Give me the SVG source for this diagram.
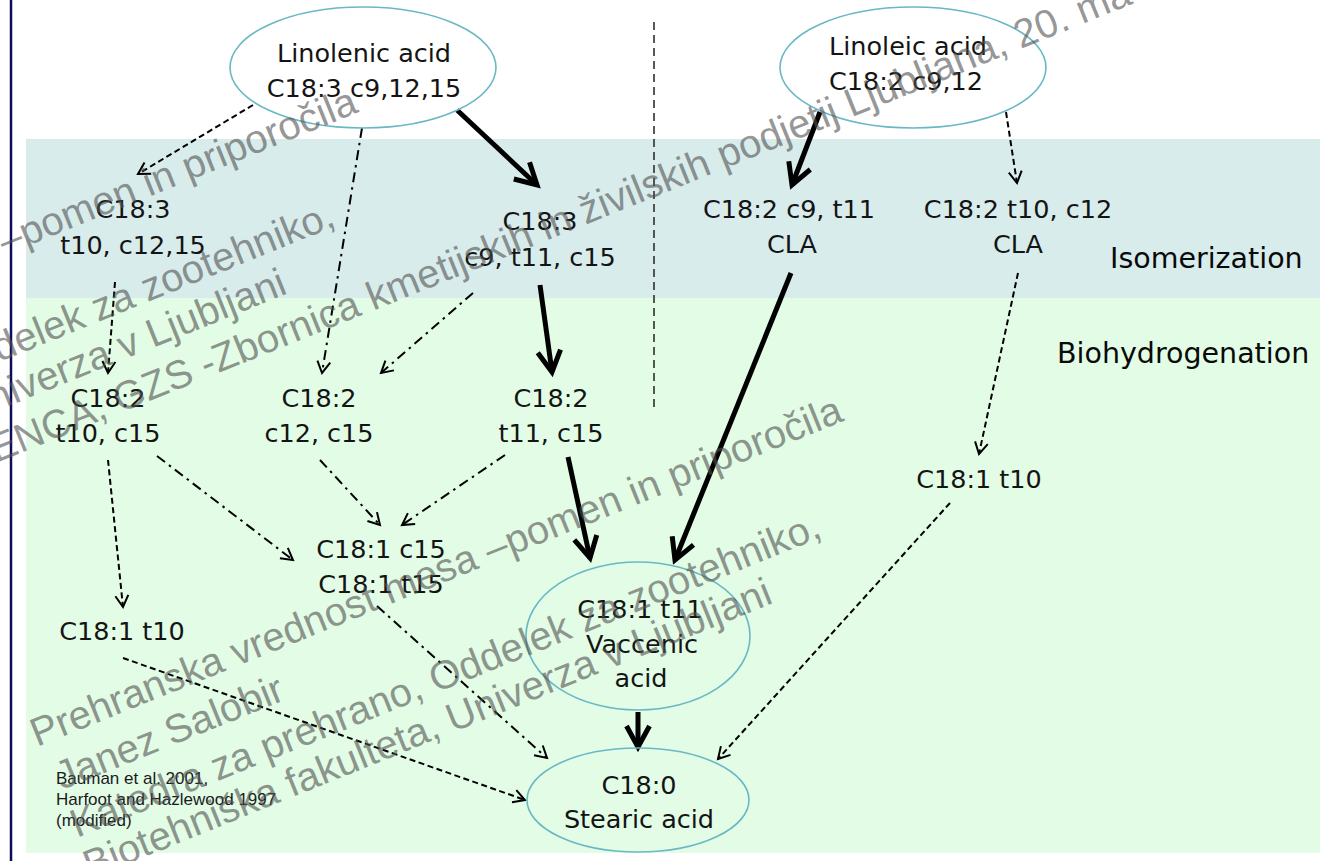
<svg xmlns="http://www.w3.org/2000/svg" width="1324" height="861" viewBox="0 0 1324 861">
<defs>
<style>
.node{font-family:"DejaVu Sans",sans-serif;font-size:25.5px;fill:#141414;text-anchor:middle}
.band{font-family:"DejaVu Sans",sans-serif;font-size:28.5px;fill:#0a0a0a}
.cite{font-family:"Liberation Sans",Arial,sans-serif;font-size:17px;fill:#1a1a1a}
.ell{fill:none;stroke:#6ab8c4;stroke-width:1.6}
.thick{fill:none;stroke:#000;stroke-width:5;marker-end:url(#hThick)}
.dash{fill:none;stroke:#000;stroke-width:2;stroke-dasharray:6 3.5;marker-end:url(#hThin)}
.dd{fill:none;stroke:#000;stroke-width:2;stroke-dasharray:10 5 2.5 5;marker-end:url(#hThin)}
.wm{font-family:"Liberation Sans",Arial,sans-serif;font-size:40px;fill:#505050;fill-opacity:0.6}
</style>
<marker id="hThick" markerUnits="userSpaceOnUse" viewBox="-30 -20 40 40" markerWidth="40" markerHeight="40" refX="0" refY="0" orient="auto" overflow="visible">
<path d="M-21,-11.5 L0,0 L-21,11.5" fill="none" stroke="#000" stroke-width="5" stroke-dasharray="none" stroke-linejoin="miter"/>
</marker>
<marker id="hThin" markerUnits="userSpaceOnUse" viewBox="-20 -10 25 20" markerWidth="25" markerHeight="20" refX="0" refY="0" orient="auto" overflow="visible">
<path d="M-11.5,-6.5 L0,0 L-11.5,6.5" fill="none" stroke="#000" stroke-width="2" stroke-dasharray="none"/>
</marker>
</defs>

<g id="background">
<rect x="0" y="0" width="1324" height="861" fill="#ffffff"/>
<rect x="26" y="139" width="1294" height="159" fill="#d8ecec"/>
<rect x="26" y="298" width="1294" height="555" fill="#e2fce6"/>
<line x1="11" y1="0" x2="11" y2="861" stroke="#0c0c5a" stroke-width="2.5"/>
<line x1="654" y1="22" x2="654" y2="408" stroke="#222" stroke-width="1.5" stroke-dasharray="8 5"/>
<text class="band" x="1110" y="268">Isomerization</text>
<text class="band" x="1057" y="363">Biohydrogenation</text>
</g>

<g id="connectors">
<line class="thick" x1="457" y1="110" x2="537" y2="185"/>
<line class="thick" x1="820" y1="112" x2="792" y2="185"/>
<line class="thick" x1="540" y1="285" x2="552" y2="372"/>
<line class="thick" x1="568" y1="457" x2="590" y2="558"/>
<line class="thick" x1="791" y1="273" x2="675" y2="560"/>
<line class="thick" x1="638" y1="712" x2="638" y2="747"/>
<line class="dash" x1="253" y1="105" x2="138" y2="174"/>
<line class="dash" x1="1006" y1="112" x2="1017" y2="183"/>
<line class="dash" x1="115" y1="282" x2="108" y2="373"/>
<line class="dash" x1="108" y1="460" x2="123" y2="607"/>
<line class="dash" x1="123" y1="658" x2="525" y2="800"/>
<line class="dash" x1="1018" y1="273" x2="979" y2="454"/>
<line class="dash" x1="950" y1="503" x2="718" y2="759"/>
<line class="dd" x1="362" y1="128" x2="322" y2="373"/>
<line class="dd" x1="473" y1="293" x2="381" y2="373"/>
<line class="dd" x1="320" y1="460" x2="380" y2="525"/>
<line class="dd" x1="505" y1="455" x2="402" y2="525"/>
<line class="dd" x1="157" y1="456" x2="293" y2="560"/>
<line class="dd" x1="377" y1="606" x2="547" y2="758"/>
</g>

<g id="n-linolenic">
<ellipse class="ell" cx="363" cy="67.5" rx="133" ry="60.5"/>
<text class="node" x="364" y="62">Linolenic acid</text>
<text class="node" x="364" y="97">C18:3 c9,12,15</text>
</g>
<g id="n-linoleic">
<ellipse class="ell" cx="913" cy="67.5" rx="133" ry="60.5"/>
<text class="node" x="908" y="55">Linoleic acid</text>
<text class="node" x="906" y="90">C18:2 c9,12</text>
</g>
<g id="n-c183-t10">
<text class="node" x="133" y="218">C18:3</text>
<text class="node" x="133" y="254">t10, c12,15</text>
</g>
<g id="n-c183-c9">
<text class="node" x="540" y="230">C18:3</text>
<text class="node" x="540" y="266">c9, t11, c15</text>
</g>
<g id="n-cla-c9">
<text class="node" x="789" y="218">C18:2 c9, t11</text>
<text class="node" x="792" y="253">CLA</text>
</g>
<g id="n-cla-t10">
<text class="node" x="1018" y="218">C18:2 t10, c12</text>
<text class="node" x="1018" y="253">CLA</text>
</g>
<g id="n-c182-t10c15">
<text class="node" x="108" y="407">C18:2</text>
<text class="node" x="108" y="442">t10, c15</text>
</g>
<g id="n-c182-c12c15">
<text class="node" x="319" y="407">C18:2</text>
<text class="node" x="319" y="442">c12, c15</text>
</g>
<g id="n-c182-t11c15">
<text class="node" x="551" y="407">C18:2</text>
<text class="node" x="551" y="442">t11, c15</text>
</g>
<g id="n-c181-t10-right">
<text class="node" x="979" y="488">C18:1 t10</text>
</g>
<g id="n-c181-c15">
<text class="node" x="381" y="558">C18:1 c15</text>
<text class="node" x="381" y="593">C18:1 t15</text>
</g>
<g id="n-c181-t10-left">
<text class="node" x="122" y="640">C18:1 t10</text>
</g>
<g id="n-vaccenic">
<ellipse class="ell" cx="638" cy="636" rx="112" ry="74"/>
<text class="node" x="640" y="618">C18:1 t11</text>
<text class="node" x="642" y="653">Vaccenic</text>
<text class="node" x="641" y="687">acid</text>
</g>
<g id="n-stearic">
<ellipse class="ell" cx="638" cy="800" rx="111" ry="52"/>
<text class="node" x="639" y="794">C18:0</text>
<text class="node" x="639" y="828">Stearic acid</text>
</g>

<g id="citation">
<text class="cite" x="56" y="784">Bauman et al. 2001,</text>
<text class="cite" x="56" y="805">Harfoot and Hazlewood 1997</text>
<text class="cite" x="56" y="826">(modified)</text>
</g>

<g id="watermark">
<text class="wm" transform="translate(37,747) rotate(-22)">Prehranska vrednost mesa –pomen in priporočila</text>
<text class="wm" transform="translate(62,790) rotate(-22)">Janez Salobir</text>
<text class="wm" transform="translate(77,838) rotate(-22)">Katedra za prehrano, Oddelek za zootehniko,</text>
<text class="wm" transform="translate(90,879) rotate(-22)">Biotehniška fakulteta, Univerza v Ljubljani</text>
<text class="wm" transform="translate(5,255) rotate(-22)">–pomen in priporočila</text>
<text class="wm" transform="translate(-1,362) rotate(-22)">delek za zootehniko,</text>
<text class="wm" transform="translate(-6,412) rotate(-22)">niverza v Ljubljani</text>
<text class="wm" transform="translate(-4,463) rotate(-22)">ENCA, GZS -Zbornica kmetijskih in živilskih podjetij Ljubljana, 20. ma</text>
</g>
</svg>
